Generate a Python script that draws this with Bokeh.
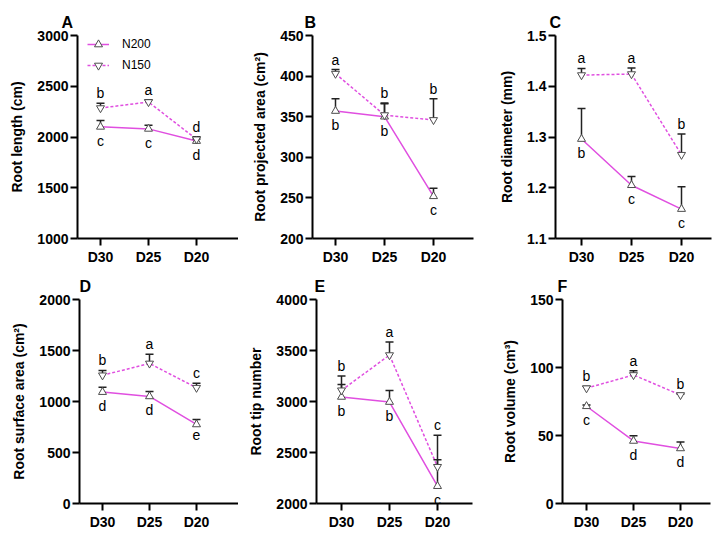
from bokeh.plotting import figure
from bokeh.models import Range1d, FixedTicker, Legend, LegendItem, ColumnDataSource, PrintfTickFormatter
from bokeh.layouts import column, row
from bokeh.core.properties import value
from bokeh.embed import file_html
from bokeh.resources import INLINE

days = ["D30", "D25", "D20"]

# A: Root length (cm)
len_n200 = [2100, 2080, 1960]
len_n200_err = [62, 35, 20]
len_n150 = [2285, 2345, 1978]
len_n150_err = [48, 22, 25]
len_l200 = ["c", "c", "d"]
len_l150 = ["b", "a", "d"]

# B: Root projected area (cm2)
proj_n200 = [357, 350, 252]
proj_n200_err = [15, 16, 10]
proj_n150 = [403, 352, 346]
proj_n150_err = [5, 15, 26]
proj_l200 = ["b", "b", "c"]
proj_l150 = ["a", "b", "b"]

# C: Root diameter (mm)
diam_n200 = [1.296, 1.205, 1.158]
diam_n200_err = [0.060, 0.017, 0.044]
diam_n150 = [1.422, 1.424, 1.265]
diam_n150_err = [0.013, 0.012, 0.041]
diam_l200 = ["b", "c", "c"]
diam_l150 = ["a", "a", "b"]

# D: Root surface area (cm2)
surf_n200 = [1092, 1050, 775]
surf_n200_err = [48, 48, 48]
surf_n150 = [1257, 1373, 1135]
surf_n150_err = [48, 90, 45]
surf_l200 = ["d", "d", "e"]
surf_l150 = ["b", "a", "c"]

# E: Root tip number
tip_n200 = [3045, 2995, 2170]
tip_n200_err = [122, 113, 258]
tip_n150 = [3110, 3455, 2360]
tip_n150_err = [140, 128, 310]
tip_l200 = ["b", "b", "c"]
tip_l150 = ["b", "a", "c"]

# F: Root volume (cm3)
vol_n200 = [71.5, 46, 40.5]
vol_n200_err = [1.0, 3.8, 4.8]
vol_n150 = [84.8, 94.5, 79.8]
vol_n150_err = [1.5, 3.2, 0.8]
vol_l200 = ["c", "d", "d"]
vol_l150 = ["b", "a", "b"]

LINE_COLOR = "#e04fe0"
FONT = "Liberation Sans"


def make_panel(letter, ylabel, yticks, fmt, n200, e200, n150, e150, l200, l150,
               geom, legend=False):
    w, h, bl, br, bt, bb, off, sp, toff = geom
    fw = w - bl - br
    xs = list(range(len(days)))
    x0 = -off / sp
    x1 = x0 + fw / sp
    p = figure(width=w, height=h, output_backend="svg", toolbar_location=None,
               x_range=Range1d(x0, x1), y_range=Range1d(yticks[0], yticks[-1]),
               min_border_left=bl, min_border_right=br, min_border_top=bt,
               min_border_bottom=bb)
    p.outline_line_color = None
    p.xgrid.visible = False
    p.ygrid.visible = False
    p.background_fill_color = None
    p.border_fill_color = None

    p.title.text = letter
    p.title.text_font = FONT
    p.title.text_font_size = "16px"
    p.title.text_font_style = "bold"
    p.title.text_color = "black"
    p.title.align = "left"
    p.title.offset = toff

    for ax in (p.xaxis[0], p.yaxis[0]):
        ax.axis_line_width = 2
        ax.axis_line_color = "black"
        ax.major_tick_line_width = 2
        ax.major_tick_line_color = "black"
        ax.major_tick_out = 7
        ax.major_tick_in = 0
        ax.minor_tick_line_color = None
        ax.major_label_text_font = FONT
        ax.major_label_text_font_style = "bold"
        ax.major_label_text_font_size = "14px"
        ax.major_label_text_color = "black"
    p.xaxis.ticker = FixedTicker(ticks=xs)
    p.xaxis.major_label_overrides = {i: d for i, d in enumerate(days)}
    p.xaxis.major_label_standoff = 3
    p.yaxis.ticker = FixedTicker(ticks=yticks)
    p.yaxis.formatter = PrintfTickFormatter(format=fmt)
    p.yaxis.major_label_standoff = 2
    p.yaxis.axis_label = ylabel
    p.yaxis.axis_label_text_font = FONT
    p.yaxis.axis_label_text_font_style = "bold"
    p.yaxis.axis_label_text_font_size = "14px"
    p.yaxis.axis_label_text_color = "black"
    p.yaxis.axis_label_standoff = 9

    up200 = [v + e for v, e in zip(n200, e200)]
    up150 = [v + e for v, e in zip(n150, e150)]
    s200 = ColumnDataSource(dict(x=xs, y=n200, up=up200, lab=l200))
    s150 = ColumnDataSource(dict(x=xs, y=n150, up=up150, lab=l150))

    ln200 = p.line("x", "y", source=s200, line_color=LINE_COLOR, line_width=1.5)
    ln150 = p.line("x", "y", source=s150, line_color=LINE_COLOR, line_width=1.5,
                   line_dash="3 2")

    for s in (s200, s150):
        p.segment(x0="x", y0="y", x1="x", y1="up", source=s, line_color="#222222",
                  line_width=1.5)
        p.scatter("x", "up", source=s, marker="dash", size=8, line_color="#222222",
                  line_width=1.5)

    m200 = p.scatter("x", "y", source=s200, marker="triangle", size=8,
                     fill_color="white", line_color="#4d4d4d", line_width=1)
    m150 = p.scatter("x", "y", source=s150, marker="inverted_triangle", size=8,
                     fill_color="white", line_color="#4d4d4d", line_width=1)

    p.text("x", "up", text="lab", source=s150, text_align="center",
           text_baseline="bottom", y_offset=-2, text_font=value(FONT),
           text_font_size="14px", text_color="black")
    p.text("x", "y", text="lab", source=s200, text_align="center",
           text_baseline="top", y_offset=6, text_font=value(FONT),
           text_font_size="14px", text_color="black")

    if legend:
        leg = Legend(items=[LegendItem(label="N200", renderers=[ln200, m200]),
                            LegendItem(label="N150", renderers=[ln150, m150])],
                     location=(10, 163), padding=0, margin=0, spacing=1,
                     glyph_width=22, glyph_height=20, label_height=20,
                     label_standoff=13, border_line_color=None,
                     background_fill_alpha=0, label_text_font=FONT,
                     label_text_font_size="12px", label_text_color="black")
        p.add_layout(leg)
    return p


pA = make_panel("A", "Root length (cm)", [1000, 1500, 2000, 2500, 3000], "%d",
                len_n200, len_n200_err, len_n150, len_n150_err, len_l200, len_l150,
                (238, 270, 77, 0, 33, 32, 23, 48, -16), legend=True)
pB = make_panel("B", "Root projected area (cm²)", [200, 250, 300, 350, 400, 450], "%d",
                proj_n200, proj_n200_err, proj_n150, proj_n150_err, proj_l200, proj_l150,
                (236, 270, 74, 1, 35, 29, 23, 49, -8))
pC = make_panel("C", "Root diameter (mm)", [1.1, 1.2, 1.3, 1.4, 1.5], "%.1f",
                diam_n200, diam_n200_err, diam_n150, diam_n150_err, diam_l200, diam_l150,
                (238, 270, 81, 1, 35, 28, 26, 50, -6))
pD = make_panel("D", "Root surface area (cm²)", [0, 500, 1000, 1500, 2000], "%d",
                surf_n200, surf_n200_err, surf_n150, surf_n150_err, surf_l200, surf_l150,
                (238, 265, 79, 0, 28, 31, 23, 47, 0))
pE = make_panel("E", "Root tip number", [2000, 2500, 3000, 3500, 4000], "%d",
                tip_n200, tip_n200_err, tip_n150, tip_n150_err, tip_l200, tip_l150,
                (236, 265, 78, 2, 28, 31, 25, 48, -2))
pF = make_panel("F", "Root volume (cm³)", [0, 50, 100, 150], "%d",
                vol_n200, vol_n200_err, vol_n150, vol_n150_err, vol_l200, vol_l150,
                (238, 265, 88, 2, 29, 32, 24, 47, -5))

layout = column(row(pA, pB, pC), row(pD, pE, pF))
open("out.html", "w").write(file_html(layout, INLINE))
